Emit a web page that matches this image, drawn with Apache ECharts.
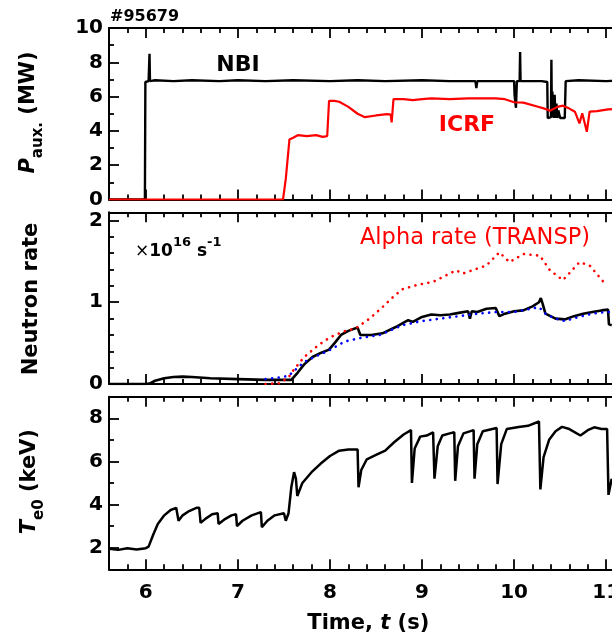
<!DOCTYPE html>
<html><head><meta charset="utf-8">
<script src="https://cdn.jsdelivr.net/npm/echarts@6/dist/echarts.min.js"></script>
<style>html,body{margin:0;padding:0;overflow:hidden;background:#fff}#c{width:640px;height:643px}</style>
</head><body><div id="c"></div><script>
// ---------- DATA ----------
const shotLabel = '#95679';
// Panel 1: auxiliary heating power (MW)
const nbiT = [5.6,5.99,5.995,6.03,6.04,6.045,6.1,6.3,6.5,6.8,7.0,7.3,7.6,8.0,8.3,8.6,9.0,9.3,9.58,9.59,9.6,10.0,10.005,10.02,10.03,10.06,10.065,10.07,10.1,10.3,10.36,10.365,10.37,10.4,10.405,10.41,10.415,10.43,10.44,10.45,10.46,10.47,10.48,10.5,10.55,10.56,10.7,11.0,11.2];
const nbiP = [0,0,6.85,6.9,8.5,6.9,6.95,6.9,6.95,6.9,6.95,6.9,6.95,6.9,6.95,6.9,6.95,6.9,6.9,6.5,6.9,6.9,6.1,5.35,6.9,6.9,8.6,6.9,6.9,6.9,6.85,4.75,4.8,4.8,8.15,4.8,6.3,4.75,6.1,4.75,5.6,4.75,5.2,4.75,4.75,6.9,6.95,6.9,6.95];
const icrfT = [5.6,7.49,7.52,7.56,7.6,7.65,7.75,7.85,7.92,7.97,7.99,8.05,8.1,8.2,8.3,8.38,8.5,8.62,8.66,8.67,8.69,8.8,8.9,9.0,9.1,9.3,9.5,9.7,9.8,9.9,10.0,10.1,10.26,10.33,10.39,10.47,10.53,10.6,10.66,10.71,10.74,10.79,10.82,10.9,11.02,11.2];
const icrfP = [0,0,1.2,3.5,3.6,3.75,3.7,3.75,3.65,3.7,5.75,5.75,5.7,5.4,5.0,4.8,4.9,4.98,4.95,4.5,5.85,5.85,5.8,5.85,5.9,5.85,5.9,5.9,5.9,5.85,5.67,5.65,5.41,5.3,5.18,5.4,5.47,5.3,5.12,4.44,5.03,3.95,5.12,5.15,5.26,5.3];
// Panel 2: neutron rate (x1e16 /s)
const neutT = [5.6,6.0,6.05,6.1,6.2,6.3,6.4,6.5,6.7,7.0,7.3,7.58,7.65,7.72,7.81,7.9,7.99,8.05,8.12,8.2,8.3,8.33,8.45,8.57,8.72,8.8,8.85,8.9,9.0,9.1,9.2,9.3,9.4,9.5,9.52,9.54,9.6,9.7,9.8,9.84,9.9,10.0,10.1,10.2,10.27,10.29,10.31,10.34,10.45,10.55,10.65,10.75,10.85,10.95,11.02,11.03,11.06];
const neutV = [0,0,0.01,0.04,0.07,0.085,0.09,0.085,0.07,0.06,0.05,0.05,0.14,0.24,0.33,0.38,0.42,0.5,0.6,0.65,0.69,0.6,0.6,0.62,0.7,0.75,0.78,0.76,0.82,0.85,0.84,0.85,0.87,0.89,0.8,0.89,0.88,0.92,0.93,0.83,0.86,0.89,0.9,0.95,1.0,1.05,0.98,0.86,0.8,0.79,0.83,0.86,0.88,0.9,0.91,0.73,0.72];
const simT = [7.3,7.45,7.55,7.65,7.72,7.85,7.99,8.16,8.32,8.54,8.79,9.0,9.2,9.4,9.6,9.8,10.0,10.27,10.35,10.45,10.55,10.7,10.85,11.0,11.06];
const simV = [0.06,0.08,0.1,0.2,0.27,0.34,0.41,0.52,0.56,0.6,0.72,0.77,0.8,0.83,0.86,0.88,0.88,0.94,0.85,0.8,0.77,0.82,0.86,0.88,0.88];
const alphaT = [7.3,7.45,7.55,7.59,7.72,7.88,8.0,8.14,8.28,8.43,8.57,8.7,8.79,8.94,9.12,9.37,9.44,9.7,9.84,9.95,10.1,10.28,10.39,10.53,10.71,10.82,10.97];
const alphaV = [0.0,0.01,0.08,0.15,0.33,0.48,0.57,0.64,0.68,0.8,0.94,1.08,1.16,1.21,1.25,1.39,1.35,1.45,1.61,1.49,1.59,1.57,1.39,1.27,1.49,1.45,1.25];
// Panel 3: central electron temperature (keV)
const teT = [5.6,5.7,5.8,5.9,6.0,6.03,6.08,6.13,6.2,6.27,6.33,6.345,6.355,6.4,6.47,6.55,6.58,6.595,6.65,6.72,6.78,6.79,6.85,6.93,6.98,6.99,7.05,7.15,7.25,7.26,7.32,7.4,7.5,7.52,7.55,7.58,7.61,7.63,7.645,7.7,7.8,7.9,8.0,8.1,8.2,8.3,8.31,8.34,8.4,8.5,8.6,8.7,8.8,8.88,8.89,8.92,8.98,9.05,9.12,9.135,9.17,9.22,9.3,9.35,9.36,9.39,9.45,9.56,9.57,9.6,9.66,9.81,9.82,9.86,9.92,10.05,10.15,10.27,10.285,10.32,10.38,10.45,10.52,10.6,10.72,10.8,10.87,10.95,11.01,11.025,11.06];
const teV = [1.95,1.9,1.98,1.92,1.98,2.05,2.6,3.1,3.5,3.75,3.85,3.85,3.25,3.5,3.7,3.85,3.85,3.15,3.35,3.55,3.6,3.1,3.3,3.5,3.55,3.0,3.25,3.5,3.65,2.95,3.25,3.5,3.6,3.25,3.6,4.8,5.5,5.2,4.4,5.0,5.5,5.9,6.25,6.5,6.55,6.55,4.8,5.6,6.1,6.3,6.5,6.9,7.25,7.45,5.0,6.6,7.15,7.2,7.35,5.2,6.7,7.2,7.3,7.35,5.1,6.7,7.3,7.45,5.2,6.8,7.4,7.55,4.95,6.8,7.5,7.6,7.65,7.85,4.7,6.2,7.0,7.4,7.6,7.5,7.2,7.45,7.58,7.5,7.5,4.45,5.2];
// Ticks
const xMajor = [6,7,8,9,10,11];
const xMinor = [5.8,6.2,6.4,6.6,6.8,7.2,7.4,7.6,7.8,8.2,8.4,8.6,8.8,9.2,9.4,9.6,9.8,10.2,10.4,10.6,10.8];
const y1Major = [0,2,4,6,8,10], y1Minor = [1,3,5,7,9];
const y2Major = [0,1,2], y2Minor = [0.2,0.4,0.6,0.8,1.2,1.4,1.6,1.8];
const y3Major = [2,4,6,8], y3Minor = [3,5,7];

// ---------- LAYOUT ----------
const F = '"DejaVu Sans", sans-serif';
const LEFT = 109, WIDTH = 515.6;
const grids = [{top:28,height:171.5},{top:212.3,height:171.7},{top:396.7,height:172.6}];
const yRanges = [[0,10],[0,2.1],[1,9]];
const yTicks = [[y1Major,y1Minor],[y2Major,y2Minor],[y3Major,y3Minor]];
const X_MIN = 5.6, X_MAX = 11.2;

const lineS = ()=>({color:'#000',width:2});
const tickS = ()=>({color:'#000',width:1.8});
const labS = ()=>({color:'#000',fontFamily:F,fontWeight:'bold',fontSize:20});

const xAxis = [], yAxis = [];
grids.forEach((g,i)=>{
  const base = ()=>({gridIndex:i,type:'value',min:X_MIN,max:X_MAX,splitLine:{show:false}});
  xAxis.push(Object.assign(base(),{position:'bottom',axisLine:{show:true,onZero:false,lineStyle:lineS()},
    axisTick:{show:true,inside:true,length:10,customValues:xMajor.slice(),lineStyle:tickS()},
    axisLabel:Object.assign({show:i===2,customValues:xMajor.slice(),margin:13},labS())}));
  xAxis.push(Object.assign(base(),{position:'bottom',axisLine:{show:false,onZero:false},
    axisTick:{show:true,inside:true,length:5,customValues:xMinor.slice(),lineStyle:tickS()},axisLabel:{show:false}}));
  xAxis.push(Object.assign(base(),{position:'top',axisLine:{show:true,onZero:false,lineStyle:lineS()},
    axisTick:{show:true,inside:true,length:10,customValues:xMajor.slice(),lineStyle:tickS()},axisLabel:{show:false}}));
  xAxis.push(Object.assign(base(),{position:'top',axisLine:{show:false,onZero:false},
    axisTick:{show:true,inside:true,length:5,customValues:xMinor.slice(),lineStyle:tickS()},axisLabel:{show:false}}));
  const yb = ()=>({gridIndex:i,type:'value',min:yRanges[i][0],max:yRanges[i][1],splitLine:{show:false}});
  const [maj,mn] = yTicks[i];
  yAxis.push(Object.assign(yb(),{position:'left',axisLine:{show:true,onZero:false,lineStyle:lineS()},
    axisTick:{show:true,inside:true,length:10,customValues:maj.slice(),lineStyle:tickS()},
    axisLabel:Object.assign({show:true,customValues:maj.slice(),margin:6},labS())}));
  yAxis.push(Object.assign(yb(),{position:'left',axisLine:{show:false,onZero:false},
    axisTick:{show:true,inside:true,length:5,customValues:mn.slice(),lineStyle:tickS()},axisLabel:{show:false}}));
  yAxis.push(Object.assign(yb(),{position:'right',axisLine:{show:true,onZero:false,lineStyle:lineS()},
    axisTick:{show:true,inside:true,length:10,customValues:maj.slice(),lineStyle:tickS()},axisLabel:{show:false}}));
});

const pairs = (t,v)=>t.map((x,k)=>[x,v[k]]);
function line(name,t,v,gi,color,width,dash){
  const ls = {color,width};
  if (dash) { ls.type = dash; ls.cap = 'round'; }
  return {name,type:'line',xAxisIndex:gi*4,yAxisIndex:gi*3,data:pairs(t,v),showSymbol:false,symbol:'none',lineStyle:ls};
}
const series = [
  line('NBI',nbiT,nbiP,0,'#000',2.4),
  line('ICRF',icrfT,icrfP,0,'#ff0000',2.2),
  line('Neutron',neutT,neutV,1,'#000',2.6),
  line('Neutron (TRANSP)',simT,simV,1,'#0000ff',2.6,[0.1,6.5]),
  line('Alpha rate (TRANSP)',alphaT,alphaV,1,'#ff0000',2.6,[0.1,6.5]),
  line('Te0',teT,teV,2,'#000',2.5)
];

// ---------- TEXT ----------
const mctx = document.createElement('canvas').getContext('2d');
function tw(font,text){mctx.font=font;return mctx.measureText(text).width;}
function fnt(size,bold,italic){return (italic?'italic ':'')+(bold?'bold ':'')+size+'px '+F;}
// tokens: [text,size,bold,italic,dy(baseline offset)]
function textRun(tokens,x,y,opts){
  opts=opts||{};
  let w=0; const ws=tokens.map(tk=>{const a=tw(fnt(tk[1],tk[2],tk[3]),tk[0]);w+=a;return a;});
  let cx = opts.align==='left'?0:-w/2;
  const children = tokens.map((tk,k)=>{
    const el={type:'text',x:cx,y:(tk[4]||0)-0.3*tk[1],style:{text:tk[0],font:fnt(tk[1],tk[2],tk[3]),fill:opts.color||'#000',align:'left',verticalAlign:'middle'}};
    cx+=ws[k]; return el;
  });
  return {type:'group',x,y,rotation:opts.rot||0,children};
}
const elements = [
  textRun([[shotLabel,16,true,false]],110,21.5,{align:'left'}),
  textRun([['NBI',22,true,false]],238,71.5),
  textRun([['ICRF',22,true,false]],467,131.5,{color:'#ff0000'}),
  textRun([['Alpha rate (TRANSP)',22.5,false,false]],475,245,{color:'#ff0000'}),
  textRun([['\u00d7',17,false,false],['10',17,true,false],['16',13,true,false,-10],[' s',17,true,false],['-1',13,true,false,-10]],135,256.7,{align:'left'}),
  textRun([['P',21,true,true],['aux.',15,true,false,8],[' (MW)',21,true,false]],35,112.5,{rot:Math.PI/2}),
  textRun([['Neutron rate',21,true,false]],38.3,299,{rot:Math.PI/2}),
  textRun([['T',21,true,true],['e0',15,true,false,8],[' (keV)',21,true,false]],36,481.7,{rot:Math.PI/2}),
  textRun([['Time, ',21,true,false],['t',21,true,true],[' (s)',21,true,false]],368.3,630.3)
];

const chart = echarts.init(document.getElementById('c'));
chart.setOption({
  animation:false,
  grid:grids.map(g=>({left:LEFT,width:WIDTH,top:g.top,height:g.height})),
  xAxis, yAxis, series,
  graphic:{elements}
});
</script></body></html>
